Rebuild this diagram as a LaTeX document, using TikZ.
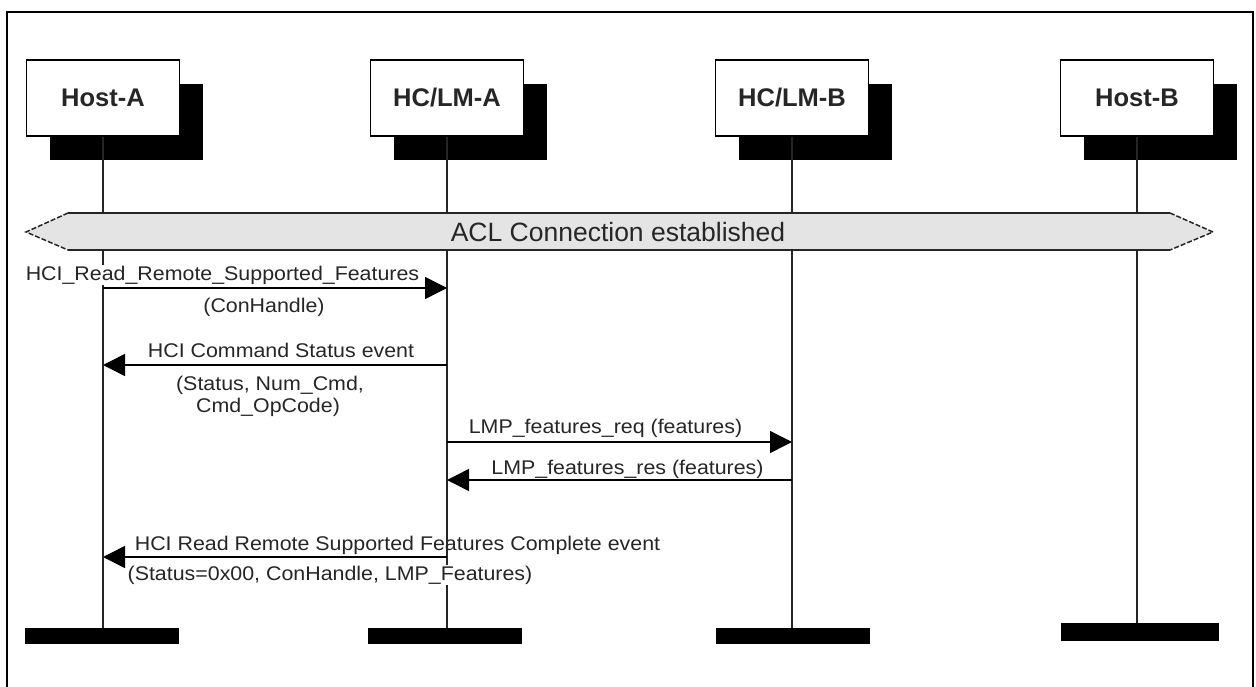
\documentclass[tikz,border=0pt]{standalone}
\usepackage{fontspec}
\setmainfont{Liberation Sans}
\newfontfamily\msgfont[FakeStretch=1.08]{Liberation Sans}
\usetikzlibrary{arrows.meta,shadows}
\definecolor{ink}{HTML}{262626}
\definecolor{band}{HTML}{E4E4E4}
\begin{document}
\begin{tikzpicture}[x=1pt,y=-1pt,
  actor/.style={draw=black,line width=1.2pt,fill=white,minimum width=153pt,minimum height=76pt,
    inner sep=0pt,font=\fontsize{25.5}{28}\selectfont\bfseries,text=ink,
    drop shadow={shadow xshift=23.5pt,shadow yshift=-24pt,fill=black,opacity=1}},
  endbar/.style={fill=black,minimum width=154pt,minimum height=16pt,inner sep=0pt},
  life/.style={line width=1.3pt,ink},
  msg/.style={line width=1.5pt,black,-{Triangle[length=22pt,width=22pt]}},
  lbl/.style={font=\msgfont\fontsize{19.8}{22}\selectfont,text=ink,inner sep=1pt,anchor=base},
  lblw/.style={lbl,fill=white},
]
\useasboundingbox (0,0) rectangle (1256,687);
% frame
\draw[line width=2.8pt] (7,700) -- (7,12) -- (1253,12) -- (1253,700);

% actors
\node[actor] (hostA) at (103,98) {Host-A};
\node[actor] (hclmA) at (447,98) {HC/LM-A};
\node[actor] (hclmB) at (792,98) {HC/LM-B};
\node[actor] (hostB) at (1137,98) {Host-B};

% end bars
\node[endbar] (endA) at (102,636) {};
\node[endbar] (endHA) at (445,636) {};
\node[endbar] (endHB) at (792.5,636) {};
\node[endbar,minimum width=158pt,minimum height=18pt] (endB) at (1140,632) {};

% lifelines
\draw[life] (hostA.south) -- (hostA.south |- endA.north);
\draw[life] (hclmA.south) -- (hclmA.south |- endHA.north);
\draw[life] (hclmB.south) -- (hclmB.south |- endHB.north);
\draw[life] (hostB.south) -- (hostB.south |- endB.north);

% ACL band
\fill[band] (26,232) -- (68,213) -- (1170,213) -- (1213,232) -- (1170,250) -- (68,250) -- cycle;
\draw[line width=1.5pt,ink] (68,213) -- (1170,213) (68,250) -- (1170,250);
\draw[line width=1.5pt,ink,dash pattern=on 5pt off 2pt] (68,213) -- (26,232) -- (68,250)
  (1170,213) -- (1213,232) -- (1170,250);
\node[font=\fontsize{26.5}{30}\selectfont,text=ink] (acl) at (618,232) {ACL Connection established};

% message end points
\coordinate (m1a) at (103,288);
\coordinate (m1b) at (447,288);
\coordinate (m2a) at (447,365);
\coordinate (m2b) at (103,365);
\coordinate (m3a) at (447,442);
\coordinate (m3b) at (792,442);
\coordinate (m4a) at (792,480);
\coordinate (m4b) at (447,480);
\coordinate (m5a) at (447,557);
\coordinate (m5b) at (103,557);

\draw[msg] (m1a) -- (m1b);
\draw[msg] (m2a) -- (m2b);
\draw[msg] (m3a) -- (m3b);
\draw[msg] (m4a) -- (m4b);
\draw[msg] (m5a) -- (m5b);

% labels
\node[lblw] (l1) at (222.5,280) {HCI\_Read\_Remote\_Supported\_Features};
\node[lbl] (l1b) at (264,312) {(ConHandle)};
\node[lbl] (l2) at (281,357) {HCI Command Status event};
\node[lbl] (l2b) at (270,390) {(Status, Num\_Cmd,};
\node[lbl] (l2c) at (268,412) {Cmd\_OpCode)};
\node[lbl] (l3) at (605.5,433) {LMP\_features\_req (features)};
\node[lbl] (l4) at (627.5,474) {LMP\_features\_res (features)};
\node[lbl] (l5) at (397.5,550) {HCI Read Remote Supported Features Complete event};
\node[lblw] (l5b) at (330,580) {(Status=0x00, ConHandle, LMP\_Features)};
\end{tikzpicture}
\end{document}
